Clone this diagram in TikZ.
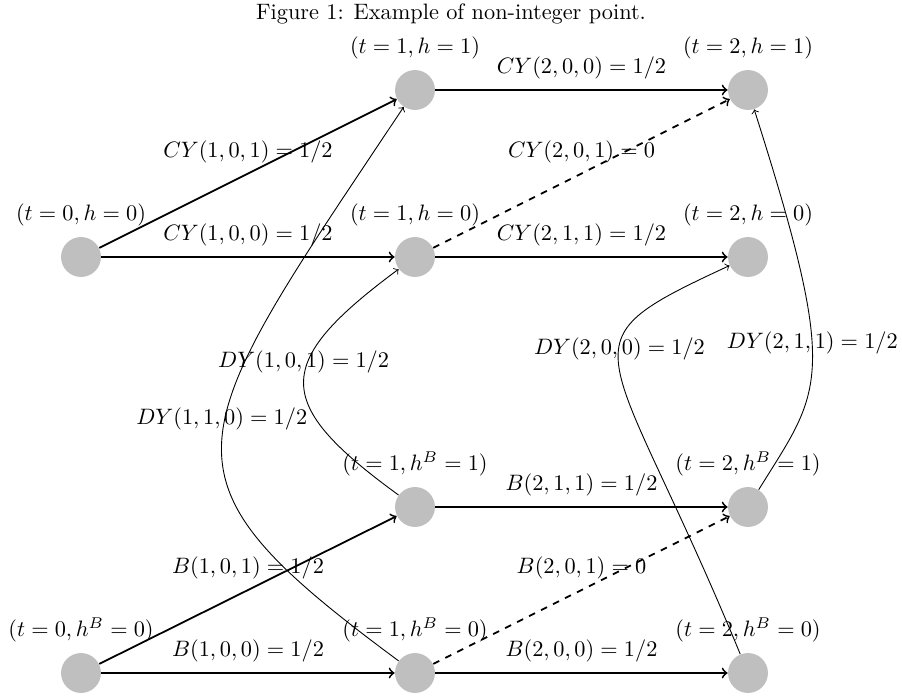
\documentclass[tikz,border=0pt]{standalone}
\begin{document}
\begin{tikzpicture}[x=0.4484pt,y=-0.4484pt,
  vtx/.style={circle,fill=lightgray,minimum size=17.9pt,inner sep=0pt},
  flow/.style={->,thick},
  zero/.style={->,thick,dashed},
  dual/.style={->},
  lab/.style={above=1pt},
  label distance=1pt]
\useasboundingbox (0,0) rectangle (902,698);
\node[anchor=base] (title) at (451,19) {Figure 1: Example of non-integer point.};
\node[vtx,label={above:$(t=0,h=0)$}] (a0) at (81,257) {};
\node[vtx,label={above:$(t=1,h=1)$}] (a11) at (415,90) {};
\node[vtx,label={above:$(t=2,h=1)$}] (a21) at (748,90) {};
\node[vtx,label={above:$(t=1,h=0)$}] (a10) at (415,257) {};
\node[vtx,label={above:$(t=2,h=0)$}] (a20) at (748,257) {};
\node[vtx,label={above:$(t=1,h^B=1)$}] (b11) at (415,507) {};
\node[vtx,label={above:$(t=2,h^B=1)$}] (b21) at (748,507) {};
\node[vtx,label={above:$(t=0,h^B=0)$}] (b0) at (81,673) {};
\node[vtx,label={above:$(t=1,h^B=0)$}] (b10) at (415,673) {};
\node[vtx,label={above:$(t=2,h^B=0)$}] (b20) at (748,673) {};
\draw[flow] (a0) -- node[lab]{$CY(1,0,1)=1/2$} (a11);
\draw[flow] (a0) -- node[lab]{$CY(1,0,0)=1/2$} (a10);
\draw[flow] (a11) -- node[lab]{$CY(2,0,0)=1/2$} (a21);
\draw[zero] (a10) -- node[lab]{$CY(2,0,1)=0$} (a21);
\draw[flow] (a10) -- node[lab]{$CY(2,1,1)=1/2$} (a20);
\draw[flow] (b0) -- node[lab]{$B(1,0,1)=1/2$} (b11);
\draw[flow] (b0) -- node[lab]{$B(1,0,0)=1/2$} (b10);
\draw[flow] (b11) -- node[lab]{$B(2,1,1)=1/2$} (b21);
\draw[zero] (b10) -- node[lab]{$B(2,0,1)=0$} (b21);
\draw[flow] (b10) -- node[lab]{$B(2,0,0)=1/2$} (b20);
\draw[dual] (b10) .. controls (146,474) and (178,445) .. (a11) node[pos=0.5,lab]{$DY(1,1,0)=1/2$};
\draw[dual] (b11) .. controls (272,403) and (272,363) .. (a10) node[pos=0.5,lab]{$DY(1,0,1)=1/2$};
\draw[dual] (b20) .. controls (608,333) and (554,347) .. (a20) node[pos=0.5,lab]{$DY(2,0,0)=1/2$};
\draw[dual] (b21) .. controls (821,389) and (841,382) .. (a21) node[pos=0.5,lab]{$DY(2,1,1)=1/2$};
\end{tikzpicture}
\end{document}
